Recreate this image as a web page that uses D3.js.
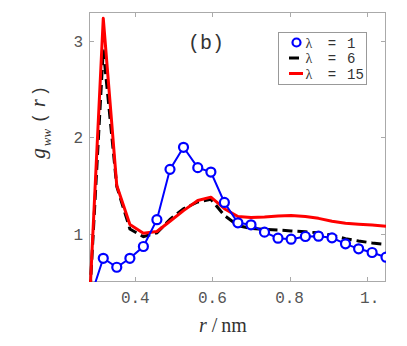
<!DOCTYPE html>
<html>
<head>
<meta charset="utf-8">
<script src="https://cdn.jsdelivr.net/npm/d3@7"></script>
<style>
  body { margin: 0; background: #fff; }
  svg { display: block; }
</style>
</head>
<body>
<div id="chart"></div>
<script>

// r values (nm), shared by the three curves
var rValues = [0.283, 0.317, 0.352, 0.386, 0.421, 0.456, 0.490, 0.525, 0.562, 0.596, 0.631,
    0.666, 0.700, 0.735, 0.770, 0.804, 0.841, 0.875, 0.910, 0.945, 0.979, 1.014, 1.050];

var gLambda1 = [0.33, 0.746, 0.653, 0.746, 0.868, 1.146, 1.668, 1.897, 1.686, 1.640, 1.325,
    1.114, 1.093, 1.017, 0.954, 0.944, 0.972, 0.975, 0.958, 0.896, 0.844, 0.806, 0.757];

var gLambda6 = [0.42, 2.91, 1.49, 1.05, 0.97, 1.01, 1.15, 1.26, 1.33, 1.357, 1.19,
    1.086, 1.055, 1.045, 1.04, 1.03, 1.02, 1.01, 0.985, 0.95, 0.925, 0.905, 0.89];

var gLambda15 = [0.42, 3.235, 1.50, 1.097, 1.006, 1.024, 1.13, 1.24, 1.345, 1.38, 1.26,
    1.18, 1.17, 1.175, 1.185, 1.19, 1.18, 1.16, 1.13, 1.11, 1.10, 1.09, 1.079];

var xTicks = [0.4, 0.6, 0.8, 1.0];
var xTickLabels = ["0.4", "0.6", "0.8", "1."];
var yTicks = [1, 2, 3];
var yTickLabels = ["1", "2", "3"];

var legendNames = ["1", "6", "15"];

var width = 407, height = 346;
var margin = { top: 12, right: 21, bottom: 64, left: 89 };

var svg = d3.select("#chart").append("svg")
    .attr("width", width)
    .attr("height", height);

var x = d3.scaleLinear()
    .domain([0.28, 1.05])
    .range([margin.left, width - margin.right]);

var y = d3.scaleLinear()
    .domain([0.5, 3.3])
    .range([height - margin.bottom, margin.top]);

var frameColor = "#aaa";
var textColor = "#555";
var mono = "'Liberation Mono', 'DejaVu Sans Mono', monospace";
var serif = "'Liberation Serif', 'DejaVu Serif', serif";

svg.append("clipPath")
    .attr("id", "plotclip")
    .append("rect")
    .attr("x", margin.left)
    .attr("y", margin.top)
    .attr("width", width - margin.left - margin.right)
    .attr("height", height - margin.top - margin.bottom);

// frame
svg.append("rect")
    .attr("x", margin.left + 0.5)
    .attr("y", margin.top + 0.5)
    .attr("width", width - margin.left - margin.right - 1)
    .attr("height", height - margin.top - margin.bottom - 1)
    .attr("fill", "none")
    .attr("stroke", frameColor)
    .attr("stroke-width", 1);

// ticks, pointing inward on all four sides
var tickLen = 5;
var ticks = svg.append("g").attr("stroke", frameColor).attr("stroke-width", 1);

xTicks.forEach(function (t) {
    var px = Math.round(x(t)) + 0.5;
    ticks.append("line")
        .attr("x1", px).attr("x2", px)
        .attr("y1", height - margin.bottom).attr("y2", height - margin.bottom - tickLen);
    ticks.append("line")
        .attr("x1", px).attr("x2", px)
        .attr("y1", margin.top).attr("y2", margin.top + tickLen);
});

yTicks.forEach(function (t) {
    var py = Math.round(y(t)) + 0.5;
    ticks.append("line")
        .attr("x1", margin.left).attr("x2", margin.left + tickLen)
        .attr("y1", py).attr("y2", py);
    ticks.append("line")
        .attr("x1", width - margin.right).attr("x2", width - margin.right - tickLen)
        .attr("y1", py).attr("y2", py);
});

// tick labels
svg.selectAll("text.xrule")
    .data(xTicks)
    .enter().append("text")
    .attr("class", "xrule")
    .attr("x", function (d, i) { return x(d) + (i == 3 ? 3 : 0); })
    .attr("y", height - margin.bottom + 21)
    .attr("text-anchor", "middle")
    .attr("font-family", mono)
    .attr("font-size", "16px")
    .attr("fill", textColor)
    .text(function (d, i) { return xTickLabels[i]; });

svg.selectAll("text.yrule")
    .data(yTicks)
    .enter().append("text")
    .attr("class", "yrule")
    .attr("x", margin.left - 6)
    .attr("y", y)
    .attr("dy", 6)
    .attr("text-anchor", "end")
    .attr("font-family", mono)
    .attr("font-size", "16px")
    .attr("fill", textColor)
    .text(function (d, i) { return yTickLabels[i]; });

// curves
var plot = svg.append("g").attr("clip-path", "url(#plotclip)");

function lineFor(values) {
    return d3.line()
        .x(function (d, i) { return x(rValues[i]); })
        .y(function (d) { return y(d); })(values);
}

plot.append("path")
    .attr("d", lineFor(gLambda6))
    .attr("fill", "none")
    .attr("stroke", "#000")
    .attr("stroke-width", 3)
    .attr("stroke-dasharray", "10,5");

plot.append("path")
    .attr("d", lineFor(gLambda15))
    .attr("fill", "none")
    .attr("stroke", "#ff0000")
    .attr("stroke-width", 3)
    .attr("stroke-linejoin", "round");

plot.append("path")
    .attr("d", lineFor(gLambda1))
    .attr("fill", "none")
    .attr("stroke", "#0000ff")
    .attr("stroke-width", 2);

plot.selectAll("circle.pt")
    .data(gLambda1)
    .enter().append("circle")
    .attr("class", "pt")
    .attr("cx", function (d, i) { return x(rValues[i]); })
    .attr("cy", function (d) { return y(d); })
    .attr("r", 4.5)
    .attr("fill", "#fff")
    .attr("stroke", "#0000ff")
    .attr("stroke-width", 2.2);

// panel label
svg.append("text")
    .attr("x", 206)
    .attr("y", 49)
    .attr("text-anchor", "middle")
    .attr("font-family", mono)
    .attr("font-size", "20px")
    .attr("fill", "#333")
    .text("(b)");

// legend
var legend = svg.append("g");
legend.append("rect")
    .attr("x", 278.5).attr("y", 32.5)
    .attr("width", 88).attr("height", 52)
    .attr("fill", "#fff")
    .attr("stroke", "#999")
    .attr("stroke-width", 1);

var rowY = [42.5, 58, 73.5];

legend.append("circle")
    .attr("cx", 296.5).attr("cy", rowY[0])
    .attr("r", 4)
    .attr("fill", "#fff")
    .attr("stroke", "#0000ff")
    .attr("stroke-width", 2.2);

legend.append("line")
    .attr("x1", 289).attr("x2", 299)
    .attr("y1", rowY[1]).attr("y2", rowY[1])
    .attr("stroke", "#000").attr("stroke-width", 3);

legend.append("line")
    .attr("x1", 289).attr("x2", 303)
    .attr("y1", rowY[2]).attr("y2", rowY[2])
    .attr("stroke", "#ff0000").attr("stroke-width", 3);

legendNames.forEach(function (name, i) {
    legend.append("text")
        .attr("x", 309).attr("y", rowY[i] + 5)
        .attr("text-anchor", "middle")
        .attr("font-family", serif)
        .attr("font-size", "14px")
        .attr("fill", "#333")
        .text("λ");
    legend.append("text")
        .attr("x", 332).attr("y", rowY[i] + 5)
        .attr("text-anchor", "middle")
        .attr("font-family", mono)
        .attr("font-size", "14px")
        .attr("fill", "#333")
        .text("=");
    legend.append("text")
        .attr("x", 347).attr("y", rowY[i] + 5)
        .attr("font-family", mono)
        .attr("font-size", "14px")
        .attr("fill", "#333")
        .text(name);
});

// x axis title
var xt = svg.append("text")
    .attr("x", 199)
    .attr("y", 332)
    .attr("font-family", serif)
    .attr("font-size", "20px")
    .attr("fill", "#333");
xt.append("tspan").attr("font-style", "italic").text("r");
xt.append("tspan").attr("dx", 5).text("/");
xt.append("tspan").attr("dx", 4).text("nm");

// y axis title (rotated)
var yt = svg.append("g")
    .attr("transform", "translate(45,160) rotate(-90)")
    .attr("fill", "#333");

yt.append("text")
    .attr("x", 6.5).attr("y", 0)
    .attr("text-anchor", "middle")
    .attr("font-family", serif)
    .attr("font-style", "italic")
    .attr("font-size", "21px")
    .text("g");
yt.append("text")
    .attr("x", 22.5).attr("y", 6)
    .attr("text-anchor", "middle")
    .attr("font-family", serif)
    .attr("font-style", "italic")
    .attr("font-size", "13px")
    .text("ww");
yt.append("text")
    .attr("x", 42).attr("y", 0)
    .attr("text-anchor", "middle")
    .attr("font-family", mono)
    .attr("font-size", "18px")
    .text("(");
yt.append("text")
    .attr("x", 57).attr("y", 0)
    .attr("text-anchor", "middle")
    .attr("font-family", serif)
    .attr("font-style", "italic")
    .attr("font-size", "20px")
    .text("r");
yt.append("text")
    .attr("x", 69).attr("y", 0)
    .attr("text-anchor", "middle")
    .attr("font-family", mono)
    .attr("font-size", "18px")
    .text(")");

</script>
</body>
</html>
